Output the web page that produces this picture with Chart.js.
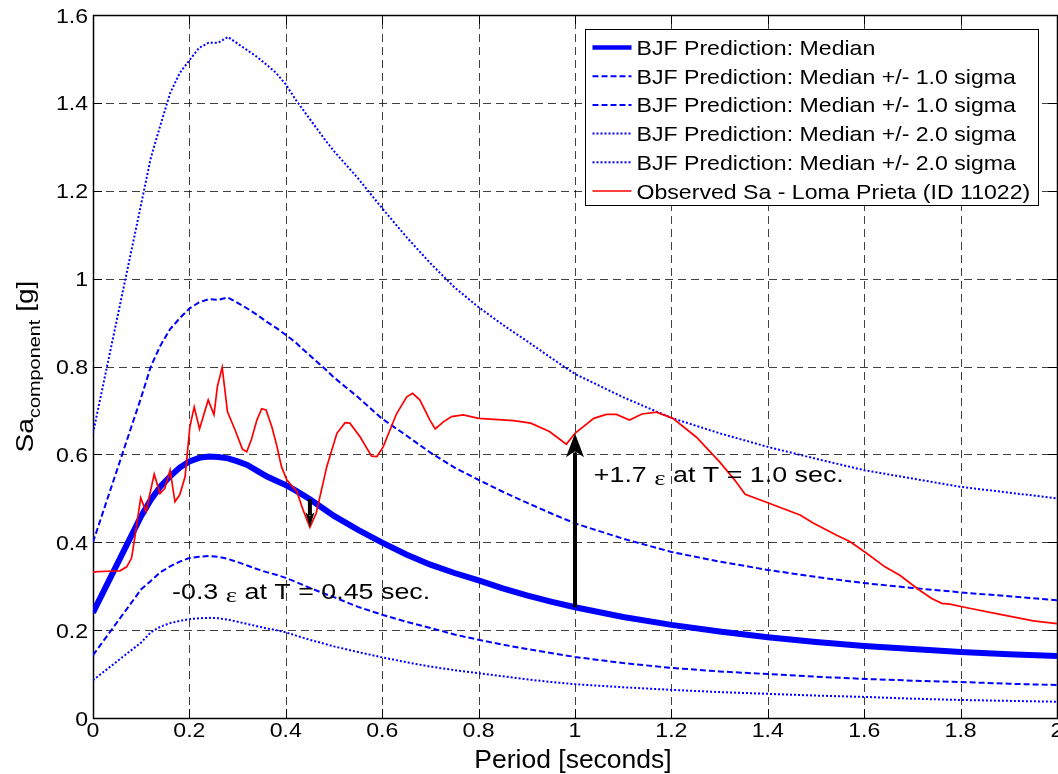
<!DOCTYPE html>
<html lang="en">
<head>
<meta charset="UTF-8">
<title>BJF Prediction vs Observed Sa</title>
<script src="https://cdn.jsdelivr.net/npm/chart.js"></script>
<style>
  html, body { margin: 0; padding: 0; background: #fff; }
  #wrap { width: 1058px; height: 774px; }
</style>
</head>
<body>
<div id="wrap"><canvas id="saChart" width="1058" height="774"></canvas></div>
<script>
// BJF prediction, spectral periods [s] and Sa [g]
const periods = [0, 0.1, 0.12, 0.14, 0.16, 0.18, 0.2, 0.22, 0.24, 0.26, 0.28, 0.3, 0.32, 0.34, 0.36, 0.38,
  0.4, 0.42, 0.45, 0.48, 0.5, 0.55, 0.6, 0.65, 0.7, 0.75, 0.8, 0.85, 0.9, 0.95, 1.0,
  1.1, 1.2, 1.3, 1.4, 1.5, 1.6, 1.7, 1.8, 1.9, 2.0];
const median = [0.24, 0.46, 0.497, 0.527, 0.55, 0.57, 0.584, 0.592, 0.595, 0.594, 0.591, 0.584, 0.576, 0.563, 0.55, 0.54,
  0.53, 0.518, 0.498, 0.475, 0.46, 0.428, 0.399, 0.372, 0.349, 0.33, 0.313, 0.295, 0.279, 0.265, 0.252,
  0.23, 0.212, 0.197, 0.184, 0.173, 0.164, 0.157, 0.15, 0.145, 0.141];
const plusOne = [0.4, 0.73, 0.8, 0.848, 0.885, 0.91, 0.932, 0.946, 0.953, 0.952, 0.957, 0.945, 0.932, 0.918, 0.902, 0.888,
  0.872, 0.855, 0.825, 0.796, 0.775, 0.73, 0.681, 0.643, 0.604, 0.57, 0.542, 0.515, 0.49, 0.466, 0.443,
  0.408, 0.378, 0.356, 0.337, 0.321, 0.307, 0.296, 0.286, 0.277, 0.268];
const minusOne = [0.143, 0.293, 0.312, 0.332, 0.345, 0.356, 0.364, 0.367, 0.369, 0.367, 0.362, 0.355, 0.347, 0.339, 0.332, 0.326,
  0.319, 0.31, 0.296, 0.283, 0.275, 0.253, 0.235, 0.219, 0.205, 0.19, 0.178, 0.167, 0.157, 0.148, 0.139,
  0.125, 0.114, 0.106, 0.1, 0.094, 0.089, 0.085, 0.082, 0.078, 0.075];
const plusTwo = [0.648, 1.17, 1.275, 1.35, 1.422, 1.468, 1.497, 1.525, 1.537, 1.537, 1.55, 1.535, 1.52, 1.505, 1.487, 1.468,
  1.442, 1.408, 1.363, 1.318, 1.29, 1.228, 1.16, 1.095, 1.035, 0.98, 0.935, 0.895, 0.858, 0.82, 0.783,
  0.73, 0.683, 0.648, 0.617, 0.59, 0.564, 0.545, 0.526, 0.513, 0.5];
const minusTwo = [0.086, 0.172, 0.195, 0.208, 0.216, 0.221, 0.225, 0.227, 0.228, 0.227, 0.224, 0.219, 0.214, 0.209, 0.204, 0.2,
  0.195, 0.188, 0.178, 0.169, 0.163, 0.15, 0.138, 0.127, 0.117, 0.109, 0.102, 0.095, 0.088, 0.082, 0.077,
  0.07, 0.064, 0.059, 0.055, 0.051, 0.048, 0.044, 0.041, 0.039, 0.037];

// recorded spectrum, Loma Prieta (ID 11022)
const obsPeriods = [0, 0.01, 0.03, 0.056, 0.07, 0.08, 0.087, 0.099, 0.11, 0.127, 0.139, 0.149, 0.16, 0.17, 0.18, 0.191,
  0.201, 0.21, 0.221, 0.239, 0.251, 0.258, 0.268, 0.279, 0.295, 0.31, 0.319, 0.329, 0.34, 0.35, 0.359, 0.371,
  0.381, 0.391, 0.402, 0.423, 0.436, 0.45, 0.463, 0.485, 0.506, 0.523, 0.533, 0.554, 0.578, 0.589, 0.602, 0.63,
  0.651, 0.663, 0.678, 0.699, 0.71, 0.727, 0.744, 0.768, 0.8, 0.873, 0.908, 0.947, 0.982, 1.0, 1.039, 1.065,
  1.086, 1.113, 1.139, 1.169, 1.203, 1.252, 1.3, 1.331, 1.353, 1.397, 1.467, 1.494, 1.543, 1.571, 1.605, 1.643,
  1.674, 1.712, 1.74, 1.761, 1.778, 1.813, 1.882, 1.951, 2.0];
const obsSa = [0.332, 0.333, 0.334, 0.335, 0.344, 0.364, 0.413, 0.501, 0.47, 0.555, 0.511, 0.523, 0.564, 0.492, 0.508, 0.549,
  0.663, 0.708, 0.658, 0.724, 0.69, 0.754, 0.798, 0.697, 0.655, 0.612, 0.606, 0.635, 0.678, 0.704, 0.701, 0.663,
  0.621, 0.572, 0.542, 0.515, 0.473, 0.434, 0.466, 0.572, 0.648, 0.672, 0.671, 0.64, 0.596, 0.595, 0.617, 0.693,
  0.731, 0.739, 0.724, 0.678, 0.658, 0.674, 0.686, 0.69, 0.682, 0.677, 0.671, 0.652, 0.623, 0.648, 0.682, 0.691,
  0.691, 0.678, 0.692, 0.696, 0.682, 0.639, 0.583, 0.542, 0.509, 0.491, 0.462, 0.444, 0.416, 0.401, 0.375, 0.344,
  0.325, 0.293, 0.272, 0.261, 0.259, 0.251, 0.236, 0.221, 0.215];

// axis ticks
const xTicks = [0, 0.2, 0.4, 0.6, 0.8, 1.0, 1.2, 1.4, 1.6, 1.8, 2.0];
const yTicks = [0, 0.2, 0.4, 0.6, 0.8, 1.0, 1.2, 1.4, 1.6];

// epsilon call-outs: arrow from the median to the recording at the given period
const epsNotes = [
  { period: 0.45, before: '-0.3 ', after: ' at T = 0.45 sec.', textX: 0.164, textY: 0.271, headW: 9, headL: 15 },
  { period: 1.0, before: '+1.7 ', after: ' at T = 1.0 sec.', textX: 1.039, textY: 0.537, headW: 18, headL: 24 }
];

const FONT = '"Liberation Sans", Arial, Helvetica, sans-serif';

function pts(xs, ys) {
  return xs.map((x, i) => ({ x: x, y: ys[i] }));
}
function valueAt(xs, ys, t) {
  return ys[xs.indexOf(t)];
}
function tickText(v) {
  return String(Math.round(v * 10) / 10);
}

// text drawn a little wider than the font, like the printed figure
function wideText(ctx, str, x, y, sx) {
  ctx.save();
  ctx.translate(x, y);
  ctx.scale(sx, 1);
  ctx.fillText(str, 0, 0);
  ctx.restore();
  return ctx.measureText(str).width * sx;
}

const DASH = [6, 3];
const DOT = [2, 2];

// dashed grid, frame, inward tick marks and tick labels
const axesPlugin = {
  id: 'matlabAxes',
  beforeDatasetsDraw(chart) {
    const { ctx, chartArea: a, scales: { x, y } } = chart;
    ctx.save();
    ctx.strokeStyle = 'rgba(0,0,0,0.75)';
    ctx.lineWidth = 1;
    ctx.setLineDash([8, 5]);
    xTicks.forEach(v => {
      const px = Math.round(x.getPixelForValue(v)) + 0.5;
      ctx.beginPath(); ctx.moveTo(px, a.bottom); ctx.lineTo(px, a.top); ctx.stroke();
    });
    yTicks.forEach(v => {
      const py = Math.round(y.getPixelForValue(v)) + 0.5;
      ctx.beginPath(); ctx.moveTo(a.left, py); ctx.lineTo(a.right, py); ctx.stroke();
    });
    ctx.setLineDash([]);
    ctx.strokeStyle = '#000';
    ctx.lineWidth = 1;
    const tl = 9;
    xTicks.forEach(v => {
      const px = Math.round(x.getPixelForValue(v)) + 0.5;
      ctx.beginPath();
      ctx.moveTo(px, a.bottom); ctx.lineTo(px, a.bottom - tl);
      ctx.moveTo(px, a.top); ctx.lineTo(px, a.top + tl);
      ctx.stroke();
    });
    yTicks.forEach(v => {
      const py = Math.round(y.getPixelForValue(v)) + 0.5;
      ctx.beginPath();
      ctx.moveTo(a.left, py); ctx.lineTo(a.left + tl, py);
      ctx.moveTo(a.right, py); ctx.lineTo(a.right - tl, py);
      ctx.stroke();
    });
    ctx.lineWidth = 1.5;
    ctx.strokeRect(Math.round(a.left) + 0.5, Math.round(a.top) + 0.5,
      Math.round(a.right - a.left), Math.round(a.bottom - a.top));

    ctx.fillStyle = '#000';
    ctx.font = '21px ' + FONT;
    ctx.textBaseline = 'alphabetic';
    ctx.textAlign = 'left';
    const sx = 1.1;
    xTicks.forEach(v => {
      const s = tickText(v);
      const w = ctx.measureText(s).width * sx;
      wideText(ctx, s, x.getPixelForValue(v) - w / 2, a.bottom + 19, sx);
    });
    yTicks.forEach(v => {
      const s = tickText(v);
      const w = ctx.measureText(s).width * sx;
      wideText(ctx, s, a.left - 5 - w, y.getPixelForValue(v) + 7.5, sx);
    });
    ctx.restore();
  }
};

function drawArrow(ctx, x0, y0, x1, y1, headW, headL) {
  const dir = Math.sign(y1 - y0);
  ctx.beginPath();
  ctx.moveTo(x0, y0);
  ctx.lineTo(x1, y1 - dir * headL * 0.8);
  ctx.stroke();
  ctx.beginPath();
  ctx.moveTo(x1, y1);
  ctx.lineTo(x1 - headW / 2, y1 - dir * headL);
  ctx.lineTo(x1, y1 - dir * headL * 0.75);
  ctx.lineTo(x1 + headW / 2, y1 - dir * headL);
  ctx.closePath();
  ctx.fill();
}

// arrows and epsilon labels
const notesPlugin = {
  id: 'epsNotes',
  afterDatasetsDraw(chart) {
    const { ctx, scales: { x, y } } = chart;
    ctx.save();
    ctx.strokeStyle = '#000';
    ctx.fillStyle = '#000';
    ctx.lineWidth = 4;
    ctx.textBaseline = 'alphabetic';
    ctx.textAlign = 'left';
    const sx = 1.22;
    epsNotes.forEach(n => {
      const px = x.getPixelForValue(n.period);
      const from = y.getPixelForValue(valueAt(periods, median, n.period));
      const to = y.getPixelForValue(valueAt(obsPeriods, obsSa, n.period));
      drawArrow(ctx, px, from, px, to, n.headW, n.headL);

      let tx = x.getPixelForValue(n.textX);
      const ty = y.getPixelForValue(n.textY);
      ctx.font = '22px ' + FONT;
      tx += wideText(ctx, n.before, tx, ty, sx);
      ctx.font = '22px "Liberation Serif", serif';
      tx += wideText(ctx, '\u03b5', tx, ty + 3, sx);
      ctx.font = '22px ' + FONT;
      wideText(ctx, n.after, tx, ty, sx);
    });
    ctx.restore();
  }
};

// legend box, axis titles
const framePlugin = {
  id: 'legendTitles',
  afterDraw(chart) {
    const { ctx, chartArea: a } = chart;
    ctx.save();
    // legend
    const bx = Math.round(a.right - 472) + 0.5, by = Math.round(a.top + 14) + 0.5;
    const bw = 453, bh = 176;
    ctx.fillStyle = '#fff';
    ctx.fillRect(bx, by, bw, bh);
    ctx.strokeStyle = '#000';
    ctx.lineWidth = 1;
    ctx.setLineDash([]);
    ctx.strokeRect(bx, by, bw, bh);
    ctx.font = '21px ' + FONT;
    ctx.textBaseline = 'alphabetic';
    ctx.textAlign = 'left';
    chart.data.datasets.forEach((ds, i) => {
      const ry = by + 18 + i * 28.7;
      ctx.strokeStyle = ds.borderColor;
      ctx.lineWidth = Math.min(ds.borderWidth, 4.5);
      ctx.setLineDash(ds.borderDash || []);
      ctx.beginPath();
      ctx.moveTo(bx + 7, ry);
      ctx.lineTo(bx + 46, ry);
      ctx.stroke();
      ctx.setLineDash([]);
      ctx.fillStyle = '#000';
      wideText(ctx, ds.label, bx + 51, ry + 7.5, 1.1);
    });

    // x title
    ctx.fillStyle = '#000';
    ctx.font = '25px ' + FONT;
    const tw = ctx.measureText('Period [seconds]').width * 1.06;
    wideText(ctx, 'Period [seconds]', (a.left + a.right) / 2 - 2 - tw / 2, a.bottom + 50, 1.06);

    // y title with subscript
    ctx.translate(33, (a.top + a.bottom) / 2);
    ctx.rotate(-Math.PI / 2);
    const big = '24px ' + FONT, small = '17px ' + FONT, sx = 1.17;
    ctx.font = big;
    const w1 = ctx.measureText('Sa').width * sx, w3 = ctx.measureText(' [g]').width * sx;
    ctx.font = small;
    const w2 = ctx.measureText('component').width * sx;
    let px = -(w1 + w2 + w3) / 2;
    ctx.font = big;
    px += wideText(ctx, 'Sa', px, 0, sx);
    ctx.font = small;
    px += wideText(ctx, 'component', px, 7, sx);
    ctx.font = big;
    wideText(ctx, ' [g]', px, 0, sx);
    ctx.restore();
  }
};

const blue = '#0000ff';
const red = '#ff0000';

new Chart(document.getElementById('saChart'), {
  type: 'line',
  data: {
    datasets: [
      { label: 'BJF Prediction: Median', data: pts(periods, median), borderColor: blue, borderWidth: 6, order: 2 },
      { label: 'BJF Prediction: Median +/- 1.0 sigma', data: pts(periods, plusOne), borderColor: blue, borderWidth: 2, borderDash: DASH, order: 3 },
      { label: 'BJF Prediction: Median +/- 1.0 sigma', data: pts(periods, minusOne), borderColor: blue, borderWidth: 2, borderDash: DASH, order: 3 },
      { label: 'BJF Prediction: Median +/- 2.0 sigma', data: pts(periods, plusTwo), borderColor: blue, borderWidth: 2, borderDash: DOT, order: 3 },
      { label: 'BJF Prediction: Median +/- 2.0 sigma', data: pts(periods, minusTwo), borderColor: blue, borderWidth: 2, borderDash: DOT, order: 3 },
      { label: 'Observed Sa - Loma Prieta (ID 11022)', data: pts(obsPeriods, obsSa), borderColor: red, borderWidth: 1.7, order: 1 }
    ]
  },
  options: {
    responsive: false,
    animation: false,
    events: [],
    elements: { point: { radius: 0 }, line: { tension: 0, fill: false } },
    layout: { padding: { left: 33, top: 15, right: 1, bottom: 0 } },
    plugins: { legend: { display: false }, tooltip: { enabled: false } },
    scales: {
      x: {
        type: 'linear', min: 0, max: 2,
        ticks: { display: false, stepSize: 0.2 },
        grid: { display: false, drawTicks: false },
        border: { display: false },
        afterFit(s) { s.height = 56; s.paddingLeft = 0; s.paddingRight = 0; }
      },
      y: {
        min: 0, max: 1.6,
        ticks: { display: false, stepSize: 0.2 },
        grid: { display: false, drawTicks: false },
        border: { display: false },
        afterFit(s) { s.width = 60; s.paddingTop = 0; s.paddingBottom = 0; }
      }
    }
  },
  plugins: [axesPlugin, notesPlugin, framePlugin]
});
</script>
</body>
</html>
